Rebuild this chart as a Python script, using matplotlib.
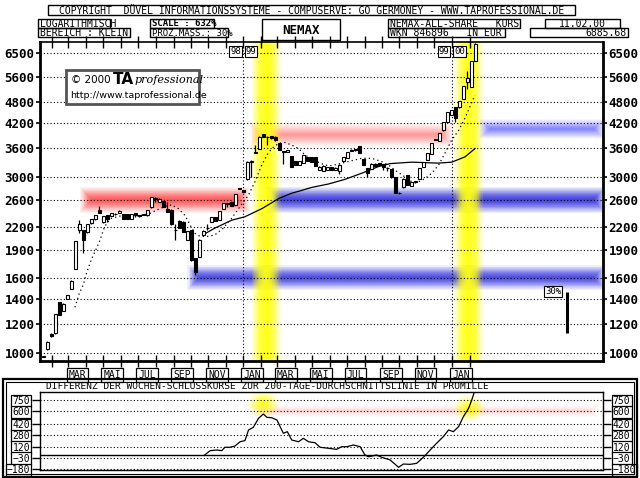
import datetime as dt
import matplotlib
matplotlib.use('Agg')
import matplotlib.pyplot as plt
from matplotlib.patches import Rectangle, Ellipse
from matplotlib.ticker import NullLocator, FixedLocator
import numpy as np

# weekly candles, the last week closes on 11.02.2000
last_week = dt.date(2000, 2, 11)
opens = [975, 1023, 1123, 1131, 1372, 1302, 1401, 1491, 1687, 2154, 2154, 2125, 2246, 2306, 2436, 2260,
         2362, 2352, 2385, 2391, 2375, 2375, 2314, 2390, 2365, 2380, 2362, 2480, 2630, 2570, 2580, 2462,
         2446, 2160, 2283, 2269, 2028, 2154, 1806, 1820, 2088, 2185, 2269, 2335, 2292, 2462, 2545, 2560,
         2520, 2795, 2765,
         2955, 3290, 3490, 3570, 3920, 3860, 3880, 3860, 3700, 3520, 3500, 3420, 3310, 3230, 3280, 3400,
         3400, 3390, 3130, 3110, 3130, 3190, 3130, 3110, 3310, 3380, 3530, 3570, 3640, 3350, 3170, 3150,
         3260, 3270, 3250, 3180, 3150, 2990, 2720, 2810, 3030, 2840, 2900, 2970, 3200, 3330, 3470, 3790,
         3760, 4010, 4220, 4420,
         4650, 4630, 4880, 5410, 5250, 6180]
closes = [980, 1073, 1112, 1273, 1270, 1360, 1436, 1570, 2011, 2230, 2019, 2230, 2309, 2362, 2391, 2352,
          2314, 2391, 2375, 2432, 2314, 2314, 2375, 2370, 2355, 2370, 2436, 2640, 2620, 2620, 2490, 2416,
          2230, 2150, 2186, 2133, 2141, 1786, 1661, 2028, 2147, 2175, 2335, 2283, 2425, 2545, 2535, 2505,
          2690, 2780, 2730,
          3300, 3320, 3500, 3860, 3860, 3850, 3820, 3770, 3550, 3510, 3540, 3200, 3230, 3310, 3440, 3310,
          3300, 3220, 3200, 3220, 3190, 3130, 3180, 3240, 3400, 3500, 3560, 3560, 3490, 3240, 3080, 3260,
          3220, 3230, 3200, 3170, 2990, 2710, 2715, 2970, 2850, 2910, 2930, 3170, 3300, 3480, 3700, 3770,
          3950, 4230, 4500, 4560,
          4330, 4820, 5280, 5550, 6180, 6886]
highs = [982, 1075, 1130, 1275, 1375, 1362, 1438, 1572, 2015, 2290, 2160, 2235, 2312, 2365, 2510, 2355,
         2365, 2395, 2388, 2435, 2378, 2378, 2378, 2392, 2368, 2383, 2440, 2645, 2640, 2623, 2585, 2560,
         2450, 2230, 2286, 2272, 2145, 2158, 1810, 2032, 2150, 2230, 2338, 2338, 2428, 2548, 2548, 2563,
         2694, 2800, 2768,
         3305, 3325, 3670, 3865, 3925, 3865, 3885, 3865, 3705, 3525, 3545, 3425, 3313, 3313, 3443, 3403,
         3403, 3393, 3203, 3223, 3193, 3193, 3183, 3243, 3403, 3503, 3563, 3573, 3643, 3353, 3173, 3263,
         3263, 3273, 3253, 3183, 3153, 2993, 2723, 2973, 3033, 2913, 2933, 3173, 3303, 3483, 3703, 3793,
         3953, 4233, 4503, 4563,
         4653, 4823, 5283, 5800, 6183, 6900]
lows = [973, 1020, 1105, 1128, 1265, 1300, 1398, 1488, 1684, 2110, 1866, 2120, 2240, 2300, 2388, 2255,
        2270, 2350, 2372, 2388, 2310, 2310, 2310, 2340, 2330, 2366, 2358, 2478, 2570, 2566, 2485, 2410,
        2225, 2030, 2180, 2128, 2024, 1780, 1628, 1815, 2084, 2150, 2265, 2278, 2288, 2458, 2490, 2500,
        2516, 2775, 2726,
        2950, 3000, 3485, 3565, 3855, 3670, 3800, 3765, 3545, 3260, 3495, 3195, 3226, 3226, 3276, 3306,
        3296, 3216, 3126, 3106, 3126, 3126, 3126, 3050, 3306, 3376, 3526, 3520, 3486, 3236, 3000, 3146,
        3216, 3226, 3130, 3120, 2986, 2706, 2690, 2806, 2846, 2836, 2880, 2966, 3196, 3326, 3466, 3766,
        3756, 4006, 4216, 4416,
        4230, 4626, 4876, 5200, 5246, 6176]

# dotted short average (week index, value)
ma_short_k = [7.9, 9, 10, 10.9, 12.1, 12.9, 14, 15.2, 15.9, 17.1, 19.2, 24.2, 26.7, 29.2, 30.7, 32.1,
              33.8, 35.4, 36.7, 37.9, 39.2, 41.3, 42.9, 45, 47.1, 48.8, 51.3, 52.9, 54.6, 55.9, 57.1,
              58.8, 60.4, 62.1, 63.8, 65.4, 67.9, 70.4, 72.1, 74.6, 77.1, 79.6, 82.1, 84.6, 86.3, 87.9,
              90.4, 92.1, 93.8, 95.4, 97.1, 98.8, 100.4, 102.1, 103.8, 105.4, 107.9]
ma_short_v = [1330, 1450, 1530, 1660, 1800, 1880, 2000, 2180, 2250, 2320, 2350, 2355, 2390, 2465, 2500,
              2520, 2460, 2360, 2220, 2110, 2070, 2070, 2090, 2180, 2320, 2460, 2680, 2910, 3230, 3440,
              3580, 3700, 3720, 3660, 3580, 3440, 3320, 3230, 3220, 3270, 3320, 3370, 3370, 3300, 3230,
              3130, 3000, 2910, 2910, 2970, 3070, 3230, 3480, 3780, 4010, 4330, 5000]
# solid 200-day line
ma200_k = [40.25, 42.9, 47.1, 50.4, 54.6, 58.8, 62.1, 64.2, 67.1, 71.25, 75.4, 79.6, 83.75, 86.7, 92.1,
           98.75, 102.1, 105.4, 107.9]
ma200_v = [2100, 2180, 2290, 2340, 2460, 2620, 2710, 2750, 2810, 2870, 2955, 3070, 3200, 3260, 3290,
           3270, 3290, 3400, 3580]

# lower panel: promille distance of weekly close to the 200-day line
diff_k = [40.2, 41.7, 43.4, 44.6, 45.4, 46.7, 47.9, 49.2, 50.4, 51.3, 52.5, 53.8, 55, 55.9, 57.1, 58.4,
          60, 61, 62.1, 63.8, 65, 66.3, 67.9, 69.2, 71.3, 73.3, 74.6, 75.9, 77.5, 79.2, 80.4, 81.3, 83.3,
          84.6, 86.7, 88.8, 90, 91.7, 93.3, 95, 96.7, 98.3, 100, 101.3, 102.5, 103.8, 105, 106.3, 107.1,
          107.9]
diff_v = [0, 64, 73, 64, 110, 110, 127, 185, 200, 344, 380, 502, 560, 515, 510, 479, 299, 321, 208, 185,
          231, 185, 172, 110, 96, 82, 118, 118, 141, 118, 5, -18, 5, -26, -62, -161, -117, -121, -108,
          -26, 73, 164, 254, 344, 321, 389, 524, 637, 750, 885]

price_levels = [1000, 1200, 1400, 1600, 1900, 2200, 2600, 3000, 3600, 4200, 4800, 5600, 6500]
diff_levels = [750, 600, 420, 280, 120, -30, -180]

# resistance (red) and support (blue) zones: level, from week, to week
red_zones = [(2600, 9.2, 51.5, '#ff3030', 0.068, 0.036), (3900, 51.5, 102.5, '#ff5050', 0.036, 0.033)]
blue_zones = [(4050, 108.7, 140.5, '#3c3cff', 0.04, 0.028), (2600, 56, 140.5, '#2c2ce0', 0.085, 0.036),
              (1600, 36.0, 140.5, '#3030e4', 0.078, 0.034)]
yellow_weeks = [55.7, 106.3]

month_names = {1: 'JAN', 3: 'MAR', 5: 'MAI', 7: 'JUL', 9: 'SEP', 11: 'NOV'}


def week_of(d):
    return len(closes) - 1 - (last_week - d).days / 7.0


W, H = 640, 478


def fx(x):
    return x / W


def fy(y):
    return 1 - y / H


fig = plt.figure(figsize=(6.4, 4.78), dpi=100)
ax = fig.add_axes([fx(40), fy(361), fx(603) - fx(40), fy(42) - fy(361)])
ax2 = fig.add_axes([fx(40), fy(470), fx(603) - fx(40), fy(392) - fy(470)])

mono = 'DejaVu Sans Mono'

# ---------------- main panel
ax.set_yscale('log')
ax.set_xlim(-0.825, 139.9)
ax.set_ylim(951, 6964)


def glow_h(a, level, x0, x1, color, alpha, half, fade=3.0, n=22, log=True):
    # soft band: stacked translucent boxes, shrinking towards the middle
    for i in range(n):
        s = 1 - (i / n) ** 0.7
        if log:
            lo, hi = level / 10 ** (half * s), level * 10 ** (half * s)
        else:
            lo, hi = level - half * s, level + half * s
        a.add_patch(Rectangle((x0 + fade * (1 - s), lo), x1 - x0 - 2 * fade * (1 - s), hi - lo,
                              facecolor=color, alpha=alpha, lw=0, zorder=1))


for lev, k0, k1, col, al, hf in red_zones:
    glow_h(ax, lev, k0, k1, col, al, hf)
for lev, k0, k1, col, al, hf in blue_zones:
    glow_h(ax, lev, k0, k1, col, al, hf)

for kc in yellow_weeks:
    n = 22
    for i in range(n):
        s = 1 - (i / n) ** 0.7
        ax.add_patch(Rectangle((kc - 3.6 * s, 951), 7.2 * s, 6964 - 951,
                               facecolor='#ffff18', alpha=0.14, lw=0, zorder=1.5))

ax.yaxis.set_major_locator(FixedLocator(price_levels))
ax.yaxis.set_minor_locator(NullLocator())
ax.set_yticklabels([str(v) for v in price_levels], fontfamily=mono, fontweight='bold', fontsize=9)
for v in price_levels:
    ax.axhline(v, color='black', lw=0.8, ls=(0, (1, 2)), zorder=2)
ax.tick_params(axis='y', which='major', direction='out', length=3, width=1.2, pad=1,
               left=True, right=True, labelleft=True, labelright=True)

months = []
d = dt.date(1998, 2, 1)
while d <= dt.date(2000, 2, 1):
    months.append(d)
    d = dt.date(d.year + (d.month // 12), d.month % 12 + 1, 1)
mk = [week_of(m) for m in months]
ax.set_xticks(mk)
ax.set_xticklabels([])
ax.tick_params(axis='x', direction='inout', length=9, width=1, top=True, bottom=True)

for m, k in zip(months, mk):
    if m.month == 1:
        ax.axvline(k, color='black', lw=0.8, ls=(0, (1, 2)), zorder=2)
for i, m in enumerate(months[:-1]):
    if m.month in month_names:
        kc = (mk[i] + mk[i + 1]) / 2
        ax.text(kc, -0.045, month_names[m.month], transform=ax.get_xaxis_transform(), ha='center',
                va='center', fontfamily=mono, fontsize=7,
                bbox=dict(boxstyle='square,pad=0.2', fc='white', ec='black', lw=0.9), clip_on=False)

for d_, lab in [(dt.date(1999, 1, 1), ('98', '99')), (dt.date(2000, 1, 1), ('99', '00'))]:
    k = week_of(d_)
    ax.text(k - 0.6, 0.985, lab[0], transform=ax.get_xaxis_transform(), ha='right', va='top',
            fontfamily=mono, fontsize=6.5, bbox=dict(boxstyle='square,pad=0.1', fc='white', ec='black', lw=0.8))
    ax.text(k + 0.6, 0.985, lab[1], transform=ax.get_xaxis_transform(), ha='left', va='top',
            fontfamily=mono, fontsize=6.5, bbox=dict(boxstyle='square,pad=0.1', fc='white', ec='black', lw=0.8))

ax.plot(ma_short_k, ma_short_v, color='black', lw=0.9, ls=(0, (1, 2.5)), zorder=3)
ax.plot(ma200_k, ma200_v, color='black', lw=0.9, zorder=3)

for k in range(len(closes)):
    o, c = opens[k], closes[k]
    ax.vlines(k, lows[k], highs[k], color='black', lw=0.9, zorder=4)
    up = c >= o
    ax.add_patch(Rectangle((k - 0.36, min(o, c)), 0.72, abs(c - o), facecolor='white' if up else 'black',
                           edgecolor='black', lw=0.8, zorder=5))

# 30% scale bar
bar_k = 131
ax.vlines(bar_k, 1466, 1466 / 1.295, color='black', lw=2.2, zorder=5)
ax.text(bar_k - 1.6, 1466, '30%', ha='right', va='center', fontfamily=mono, fontsize=6.5,
        bbox=dict(boxstyle='square,pad=0.1', fc='white', ec='black', lw=0.8))

for s in ['left', 'bottom', 'right']:
    ax.spines[s].set_linewidth(2)
ax.spines['top'].set_linewidth(1.2)

# ---------------- lower panel
ax2.set_xlim(-0.825, 139.9)
ax2.set_ylim(-197.6, 858)
glow_h(ax2, 600, 52, 139, '#ff6060', 0.012, half=85, fade=3, log=False)
for kc, yc in [(55, 700), (106.5, 640)]:
    n = 16
    for i in range(n):
        s = 1 - (i / n) ** 0.7
        ax2.add_patch(Ellipse((kc, yc), 8 * s, 360 * s, facecolor='#ffff00', alpha=0.11, lw=0, zorder=1))
for v in diff_levels:
    ax2.axhline(v, color='black', lw=0.8, ls=(0, (1, 2)), zorder=2)
ax2.axhline(0, color='black', lw=1, zorder=2)
ax2.plot(diff_k, diff_v, color='black', lw=0.9, zorder=3)
ax2.set_yticks(diff_levels)
ax2.set_yticklabels([str(v).replace('-', '\u2212') for v in diff_levels], fontfamily=mono, fontsize=7)
ax2.tick_params(axis='y', direction='out', length=6, width=1, pad=1, left=True, right=True,
                labelleft=True, labelright=True)
for t in ax2.yaxis.get_major_ticks():
    t.label1.set_bbox(dict(boxstyle='square,pad=0.12', fc='white', ec='black', lw=0.9))
    t.label2.set_bbox(dict(boxstyle='square,pad=0.12', fc='white', ec='black', lw=0.9))
ax2.set_xticks([])
for s in ax2.spines.values():
    s.set_linewidth(1)
ax2.text(0.01, 1.01, 'DIFFERENZ DER WOCHEN-SCHLUSSKURSE ZUR 200-TAGE-DURCHSCHNITTSLINIE IN PROMILLE',
         transform=ax2.transAxes, ha='left', va='bottom', fontfamily=mono, fontsize=6.8)

# frames around lower panel
fig.add_artist(Rectangle((fx(3), fy(477)), fx(634), fy(379) - fy(477), transform=fig.transFigure,
                         fill=False, ec='black', lw=1.6))
fig.add_artist(Rectangle((fx(6), fy(474)), fx(628), fy(382) - fy(474), transform=fig.transFigure,
                         fill=False, ec='black', lw=0.8))


# ---------------- header boxes
def box(x0, y0, x1, y1, text, ha='center', fs=7, weight='normal'):
    fig.add_artist(Rectangle((fx(x0), fy(y1)), fx(x1 - x0), fy(y0) - fy(y1), transform=fig.transFigure,
                             fill=False, ec='black', lw=1))
    if ha == 'left':
        tx = fx(x0 + 2)
    elif ha == 'right':
        tx = fx(x1 - 2)
    else:
        tx = fx((x0 + x1) / 2)
    fig.text(tx, fy((y0 + y1) / 2 + 0.5), text, ha=ha, va='center', fontfamily=mono, fontsize=fs,
             fontweight=weight)


box(48, 5, 575, 15, 'COPYRIGHT  D\u00dcVEL INFORMATIONSSYSTEME - COMPUSERVE: GO GERMONEY - WWW.TAPROFESSIONAL.DE')
box(38, 19, 110, 28, 'LOGARITHMISCH', ha='left')
box(38, 28, 130, 37, 'BEREICH : KLEIN', ha='left')
box(150, 19, 214, 28, 'SCALE : 632%', ha='left', fs=6.5, weight='bold')
box(150, 28, 228, 37, 'PROZ.MASS.: 30%', ha='left', fs=6.5)
box(262, 19, 340, 40, 'NEMAX', fs=9, weight='bold')
box(388, 19, 520, 28, 'NEMAX-ALL-SHARE   KURS', ha='left')
box(388, 28, 505, 37, 'WKN 846896   IN EUR', ha='left')
box(545, 19, 620, 28, '11.02.00')
box(530, 28, 628, 37, '6885.68', ha='right')

# logo
fig.add_artist(Rectangle((fx(66), fy(104)), fx(133), fy(70) - fy(104), transform=fig.transFigure,
                         fc='white', ec='#555555', lw=2, zorder=6))
fig.text(fx(71), fy(80), '\u00a9 2000', fontfamily='DejaVu Sans', fontsize=7.5, va='center', zorder=7)
fig.text(fx(113), fy(79), 'TA', fontfamily='DejaVu Sans', fontweight='bold', fontsize=11, va='center', zorder=7)
fig.text(fx(135), fy(80), 'professional', fontfamily='DejaVu Serif', fontstyle='italic', fontsize=8,
         va='center', zorder=7)
fig.text(fx(70), fy(96), 'http://www.taprofessional.de', fontfamily='DejaVu Sans', fontsize=6.8,
         va='center', zorder=7)

fig.savefig('out.png', dpi=100, facecolor='white')
